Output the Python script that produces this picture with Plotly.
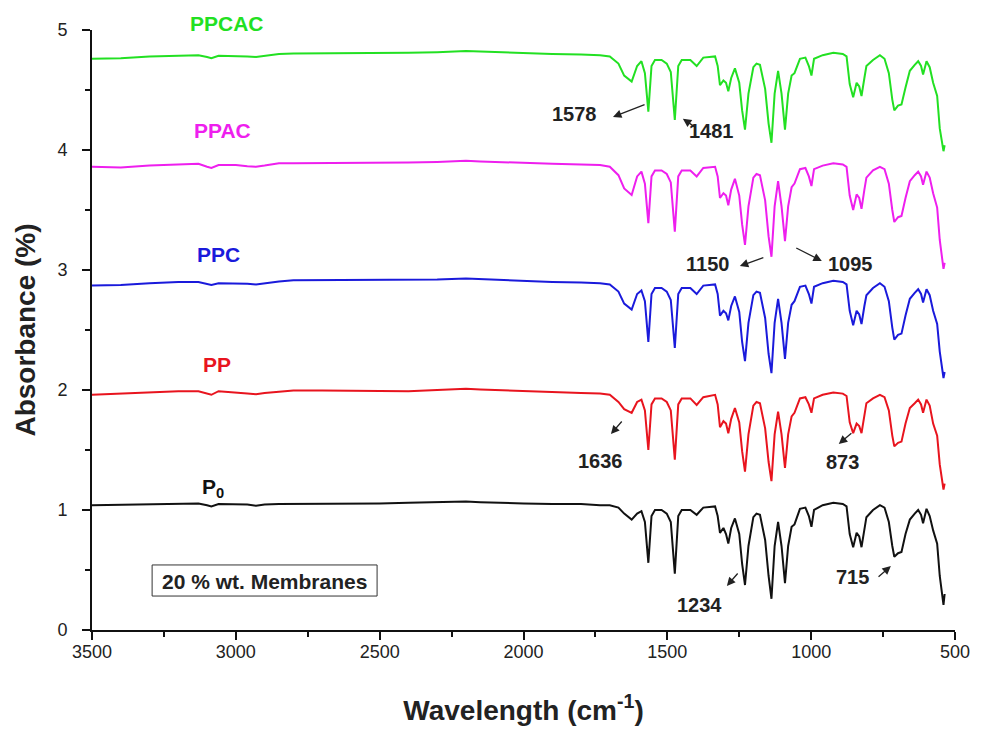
import plotly.graph_objects as go

wavenumber = [
    3500, 3400, 3300, 3200, 3130, 3100, 3085, 3060, 3000, 2960,
    2930, 2900, 2850, 2800, 2700, 2600, 2500, 2400, 2300, 2200,
    2150, 2100, 2000, 1900, 1800, 1734, 1700, 1670, 1650, 1624,
    1605, 1590, 1578, 1566, 1555, 1543, 1520, 1502, 1488, 1474,
    1462, 1450, 1420, 1398, 1375, 1334, 1325, 1317, 1305, 1296,
    1288, 1278, 1265, 1250, 1240, 1230, 1218, 1201, 1190, 1178,
    1160, 1148, 1138, 1127, 1115, 1103, 1091, 1080, 1068, 1058,
    1039, 1020, 1008, 999, 990, 960, 923, 890, 877, 866,
    854, 842, 833, 825, 815, 808, 785, 761, 745, 730,
    718, 711, 698, 686, 672, 657, 640, 628, 618, 611,
    599, 588, 576, 562, 553, 545, 540, 536,
]

p0 = [
    1.04, 1.045, 1.05, 1.05, 1.055, 1.04, 1.03, 1.05, 1.05, 1.045,
    1.035, 1.045, 1.05, 1.05, 1.05, 1.055, 1.055, 1.06, 1.065, 1.07,
    1.065, 1.06, 1.055, 1.05, 1.05, 1.04, 1.04, 1.02, 0.97, 0.92,
    0.97, 0.99, 0.90, 0.56, 0.95, 1.00, 1.00, 0.97, 0.90, 0.47,
    0.95, 1.00, 1.00, 0.96, 1.02, 1.03, 0.95, 0.81, 0.85, 0.80,
    0.72, 0.85, 0.93, 0.80, 0.55, 0.375, 0.70, 0.94, 0.97, 0.96,
    0.75, 0.45, 0.26, 0.70, 0.90, 0.70, 0.39, 0.70, 0.86, 0.88,
    1.01, 1.02, 0.95, 0.86, 1.00, 1.04, 1.06, 1.05, 1.03, 0.80,
    0.69, 0.81, 0.78, 0.69, 0.85, 0.94, 1.00, 1.04, 1.02, 0.90,
    0.70, 0.61, 0.64, 0.65, 0.80, 0.92, 0.97, 1.00, 0.96, 0.89,
    1.01, 0.95, 0.83, 0.72, 0.45, 0.30, 0.21, 0.30,
]

pp = [
    1.96, 1.97, 1.98, 1.99, 1.99, 1.97, 1.96, 1.99, 1.975, 1.97,
    1.965, 1.975, 1.985, 1.995, 1.995, 1.995, 1.995, 1.99, 2.00, 2.01,
    2.005, 2.00, 1.99, 1.98, 1.975, 1.97, 1.96, 1.90, 1.84, 1.81,
    1.90, 1.92, 1.83, 1.50, 1.88, 1.93, 1.93, 1.90, 1.83, 1.42,
    1.88, 1.93, 1.93, 1.875, 1.94, 1.96, 1.88, 1.69, 1.74, 1.72,
    1.64, 1.76, 1.85, 1.73, 1.49, 1.32, 1.63, 1.87, 1.90, 1.89,
    1.68, 1.40, 1.24, 1.63, 1.82, 1.63, 1.35, 1.63, 1.78, 1.81,
    1.93, 1.94, 1.88, 1.81, 1.93, 1.96, 1.98, 1.97, 1.95, 1.73,
    1.64, 1.72, 1.70, 1.64, 1.78, 1.89, 1.93, 1.96, 1.94, 1.83,
    1.62, 1.53, 1.56, 1.57, 1.72, 1.85, 1.89, 1.92, 1.88, 1.81,
    1.92, 1.87, 1.72, 1.62, 1.38, 1.24, 1.17, 1.22,
]

ppc = [
    2.87, 2.875, 2.89, 2.90, 2.90, 2.88, 2.875, 2.89, 2.89, 2.885,
    2.88, 2.89, 2.905, 2.915, 2.915, 2.915, 2.92, 2.915, 2.92, 2.93,
    2.925, 2.915, 2.91, 2.90, 2.895, 2.89, 2.88, 2.82, 2.72, 2.67,
    2.80, 2.83, 2.74, 2.40, 2.80, 2.85, 2.85, 2.82, 2.75, 2.35,
    2.80, 2.85, 2.85, 2.80, 2.87, 2.88, 2.80, 2.62, 2.66, 2.64,
    2.58, 2.70, 2.78, 2.65, 2.40, 2.24, 2.56, 2.79, 2.82, 2.81,
    2.60, 2.30, 2.14, 2.56, 2.76, 2.56, 2.26, 2.56, 2.71, 2.74,
    2.86, 2.87, 2.80, 2.72, 2.86, 2.89, 2.91, 2.90, 2.88, 2.66,
    2.54, 2.66, 2.63, 2.55, 2.70, 2.79, 2.85, 2.89, 2.86, 2.74,
    2.52, 2.42, 2.46, 2.47, 2.62, 2.76, 2.81, 2.84, 2.80, 2.73,
    2.84, 2.79, 2.66, 2.55, 2.32, 2.18, 2.10, 2.15,
]

ppac = [
    3.86, 3.855, 3.87, 3.88, 3.885, 3.86, 3.85, 3.875, 3.875, 3.865,
    3.86, 3.87, 3.89, 3.89, 3.89, 3.89, 3.895, 3.895, 3.90, 3.91,
    3.905, 3.90, 3.89, 3.885, 3.88, 3.875, 3.86, 3.79, 3.68, 3.625,
    3.78, 3.82, 3.72, 3.39, 3.78, 3.83, 3.83, 3.80, 3.73, 3.32,
    3.78, 3.83, 3.83, 3.78, 3.85, 3.86, 3.78, 3.60, 3.64, 3.62,
    3.54, 3.67, 3.76, 3.62, 3.38, 3.21, 3.53, 3.77, 3.80, 3.79,
    3.58, 3.28, 3.11, 3.53, 3.74, 3.53, 3.24, 3.53, 3.69, 3.72,
    3.84, 3.85, 3.78, 3.70, 3.84, 3.87, 3.89, 3.88, 3.86, 3.62,
    3.50, 3.63, 3.60, 3.51, 3.67, 3.77, 3.83, 3.86, 3.84, 3.72,
    3.50, 3.40, 3.44, 3.45, 3.60, 3.74, 3.79, 3.82, 3.78, 3.71,
    3.82, 3.77, 3.64, 3.52, 3.25, 3.10, 3.01, 3.06,
]

ppcac = [
    4.76, 4.765, 4.78, 4.785, 4.79, 4.775, 4.765, 4.785, 4.785, 4.78,
    4.775, 4.785, 4.80, 4.805, 4.805, 4.805, 4.81, 4.81, 4.815, 4.825,
    4.82, 4.815, 4.805, 4.80, 4.795, 4.79, 4.78, 4.72, 4.62, 4.57,
    4.70, 4.74, 4.64, 4.32, 4.70, 4.75, 4.75, 4.72, 4.65, 4.25,
    4.70, 4.75, 4.75, 4.70, 4.77, 4.78, 4.70, 4.54, 4.58, 4.56,
    4.49, 4.60, 4.68, 4.56, 4.33, 4.17, 4.47, 4.69, 4.72, 4.71,
    4.51, 4.22, 4.06, 4.47, 4.66, 4.47, 4.17, 4.47, 4.62, 4.64,
    4.76, 4.77, 4.70, 4.62, 4.76, 4.79, 4.81, 4.80, 4.78, 4.55,
    4.44, 4.56, 4.53, 4.45, 4.60, 4.70, 4.75, 4.79, 4.76, 4.64,
    4.42, 4.33, 4.37, 4.38, 4.52, 4.66, 4.71, 4.74, 4.70, 4.63,
    4.74, 4.69, 4.56, 4.45, 4.18, 4.04, 3.99, 4.04,
]

series_names = ["P<sub>0</sub>", "PP", "PPC", "PPAC", "PPCAC"]
series_values = [p0, pp, ppc, ppac, ppcac]
series_colors = ["#111111", "#e8141e", "#1a1adb", "#ee1fee", "#22e022"]
label_pos = [(3079, 1.18), (3066, 2.21), (3059, 3.13), (3045, 4.16), (3031, 5.05)]

# peak labels: text, text position, arrow head, arrow tail
peak_labels = ["1578", "1481", "1150", "1095", "1636", "873", "1234", "715"]
peak_text_xy = [(1821, 4.30), (1345, 4.16), (1362, 3.05), (862, 3.05),
                (1734, 1.41), (890, 1.40), (1387, 0.21), (855, 0.44)]
peak_head_xy = [(1689, 4.275), (1446, 4.26), (1248, 3.033), (963, 3.075),
                (1696, 1.633), (904, 1.55), (1293, 0.367), (723, 0.533)]
peak_tail_xy = [(1574, 4.383), (1397, 4.18), (1161, 3.108), (1057, 3.19),
                (1654, 1.75), (855, 1.65), (1251, 0.483), (771, 0.433)]

FONT = "Liberation Sans, Arial, sans-serif"
Y_MAX = 5

fig = go.Figure()
for name, vals, col in zip(series_names, series_values, series_colors):
    fig.add_trace(go.Scatter(x=wavenumber, y=vals, mode="lines", name=name,
                             line=dict(color=col, width=2), showlegend=False))

annotations = []
for name, col, (lx, ly) in zip(series_names, series_colors, label_pos):
    annotations.append(dict(x=lx, y=ly / Y_MAX, xref="x", yref="paper", text="<b>%s</b>" % name,
                            xanchor="center", yanchor="middle",
                            showarrow=False, font=dict(family=FONT, size=21, color=col)))

for t, (tx, ty), (hx, hy), (sx, sy) in zip(peak_labels, peak_text_xy, peak_head_xy, peak_tail_xy):
    annotations.append(dict(x=tx, y=ty, xref="x", yref="y", text="<b>%s</b>" % t,
                            xanchor="center", yanchor="middle",
                            showarrow=False, font=dict(family=FONT, size=20, color="#222")))
    annotations.append(dict(x=hx, y=hy, xref="x", yref="y", ax=sx, ay=sy,
                            axref="x", ayref="y", text="", showarrow=True,
                            arrowhead=2, arrowsize=1.3, arrowwidth=1.3, arrowcolor="#222",
                            standoff=0, startstandoff=0))

annotations.append(dict(x=2899, y=0.408, xref="x", yref="y",
                        text="<b>20 % wt. Membranes</b>", showarrow=False,
                        xanchor="center", yanchor="middle",
                        font=dict(family=FONT, size=21, color="#222")))

fig.add_shape(type="rect", xref="x", yref="y", x0=3291, x1=2509, y0=0.283, y1=0.542,
              line=dict(color="#333", width=1), fillcolor="rgba(0,0,0,0)")

fig.update_layout(
    width=984, height=733,
    margin=dict(l=92, r=29, t=30, b=103),
    plot_bgcolor="white", paper_bgcolor="white",
    font=dict(family=FONT, color="#222"),
    annotations=annotations,
    xaxis=dict(
        range=[3500, 500], tickmode="linear", tick0=500, dtick=500,
        showline=True, linecolor="#111", linewidth=2, mirror=False,
        ticks="outside", ticklen=8, tickwidth=2, tickcolor="#111",
        minor=dict(ticks="outside", ticklen=5, tickwidth=1.5, tickcolor="#111", dtick=250, tick0=500),
        showgrid=False, zeroline=False, ticklabelstandoff=-4,
        tickfont=dict(family=FONT, size=18, color="#222"),
        title=dict(text="<b>Wavelength (cm<sup>-1</sup>)</b>", font=dict(family=FONT, size=28, color="#222"),
                   standoff=40),
    ),
    yaxis=dict(
        range=[0, Y_MAX], tickmode="linear", tick0=0, dtick=1,
        showline=True, linecolor="#111", linewidth=2, mirror=False,
        ticks="outside", ticklen=8, tickwidth=2, tickcolor="#111",
        minor=dict(ticks="outside", ticklen=5, tickwidth=1.5, tickcolor="#111", dtick=0.5, tick0=0),
        showgrid=False, zeroline=False, ticklabelstandoff=11,
        tickfont=dict(family=FONT, size=18, color="#222"),
        title=dict(text="<b>Absorbance (%)</b>", font=dict(family=FONT, size=28, color="#222"),
                   standoff=14),
    ),
)

fig.write_html("out.html")
